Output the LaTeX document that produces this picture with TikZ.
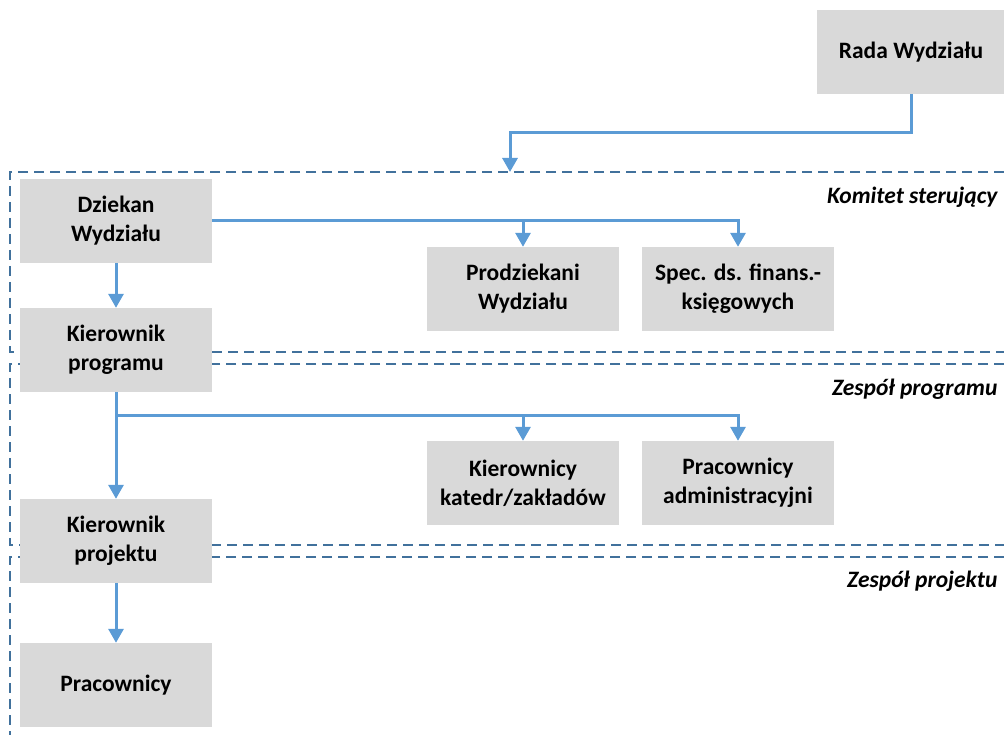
\documentclass[tikz,border=0pt]{standalone}
\usepackage{fontspec}
\setmainfont{Carlito}
\usetikzlibrary{arrows.meta}

\begin{document}
\begin{tikzpicture}[x=1pt, y=-1pt, >={Triangle[length=14pt, width=15pt]}]

\definecolor{boxgray}{RGB}{217, 217, 217}
\definecolor{linkblue}{RGB}{91, 155, 213}
\definecolor{framedblue}{RGB}{65, 113, 156}

\useasboundingbox (0,0) rectangle (1004,735);

\tikzset{
    unit/.style={
        fill=boxgray, rectangle,
        minimum width=192pt, minimum height=84pt,
        font=\fontsize{23.5}{29}\selectfont\bfseries, align=center
    },
    link/.style={
        draw=linkblue, line width=3pt
    },
    frame/.style={
        draw=framedblue, line width=2.5pt, dash pattern=on 10pt off 6pt
    },
    team/.style={
        anchor=east, font=\fontsize{23.5}{29}\selectfont\bfseries\itshape
    }
}

% Team frames (open to the right)
\draw[frame] (1004,172) -- (10,172) -- (10,352) -- (1004,352);
\draw[frame] (1004,364) -- (10,364) -- (10,545) -- (1004,545);
\draw[frame] (1004,557) -- (10,557) -- (10,740);

\node[team] (komlabel) at (1001,197) {Komitet sterujący};
\node[team] (proglabel) at (1001,389) {Zespół programu};
\node[team] (projlabel) at (1001,581) {Zespół projektu};

% Units
\node[unit, minimum width=188pt] (rada) at (911,52) {Rada Wydziału};
\node[unit] (dziekan) at (116,221) {Dziekan\\Wydziału};
\node[unit] (kprog) at (116,350) {Kierownik\\programu};
\node[unit] (kproj) at (116,541) {Kierownik\\projektu};
\node[unit] (pracownicy) at (116,685) {Pracownicy};
\node[unit] (prodziekani) at (523,289) {Prodziekani\\Wydziału};
\node[unit] (spec) at (738,289) {Spec. ds. finans.-\\księgowych};
\node[unit] (katedry) at (523,483) {Kierownicy\\katedr/zakładów};
\node[unit] (admin) at (738,483) {Pracownicy\\administracyjni};

\coordinate (komitet) at (510,172);
\coordinate (rozgal) at (116,415);

% Links
\draw[link, ->] (rada.south) -- ++(0,38) -| (komitet);
\draw[link, ->] (dziekan.east) -| (prodziekani.north);
\draw[link, ->] (dziekan.east) -| (spec.north);
\draw[link, ->] (dziekan.south) -- (kprog.north);
\draw[link, ->] (kprog.south) -- (kproj.north);
\draw[link, ->] (rozgal) -| (katedry.north);
\draw[link, ->] (rozgal) -| (admin.north);
\draw[link, ->] (kproj.south) -- (pracownicy.north);

\end{tikzpicture}
\end{document}
